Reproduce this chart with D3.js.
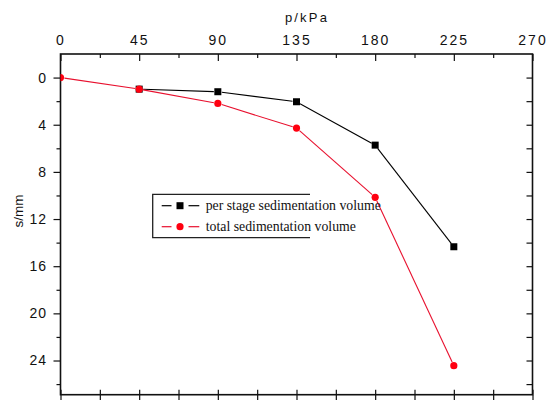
<!DOCTYPE html>
<html>
<head>
<meta charset="utf-8">
<script src="https://cdn.jsdelivr.net/npm/d3@7"></script>
<style>
  html, body { margin: 0; padding: 0; background: #fff; }
  svg { display: block; }
  .tick text { font-family: "Liberation Sans", Arial, sans-serif; fill: #111; }
</style>
</head>
<body>
<svg id="chart" width="553" height="400"></svg>
<script>
// Load p (kPa) and settlement s (mm)
const pressureTotal = [0, 45, 90, 135, 180, 225];
const settleTotal = [0, 0.98, 2.19, 4.28, 10.16, 24.44];
const pressureStage = [45, 90, 135, 180, 225];
const settleStage = [0.98, 1.2, 2.05, 5.73, 14.35];

const xMajorTicks = [0, 45, 90, 135, 180, 225, 270];
const xMinorTicks = [22.5, 67.5, 112.5, 157.5, 202.5, 247.5];
const yMajorTicks = [0, 4, 8, 12, 16, 20, 24];
const yMinorTicks = [2, 6, 10, 14, 18, 22, 26];

const legendLabels = ["per stage sedimentation volume", "total sedimentation volume"];
const xTitle = "p/kPa";
const yTitle = "s/mm";

const svg = d3.select("#chart");
const frame = { left: 60.5, right: 532.5, top: 54, bottom: 394.7 };

const x = d3.scaleLinear().domain([0, 270]).range([frame.left, frame.right]);
const y = d3.scaleLinear().domain([-2, 26.9]).range([frame.top, frame.bottom]);

// clip for data marks
svg.append("defs").append("clipPath").attr("id", "plotclip")
  .append("rect").attr("x", frame.left).attr("y", frame.top)
  .attr("width", frame.right - frame.left).attr("height", frame.bottom - frame.top);

// top axis (labelled), ticks pointing into the frame
const topAxis = svg.append("g").attr("transform", `translate(0,${frame.top})`)
  .call(d3.axisTop(x).tickValues(xMajorTicks).tickSize(-7).tickPadding(9.5)
    .tickFormat(d3.format("d")));
topAxis.selectAll("text").attr("font-size", 14).attr("letter-spacing", 2);
svg.append("g").attr("transform", `translate(0,${frame.top})`)
  .call(d3.axisTop(x).tickValues(xMinorTicks).tickSize(-4).tickFormat(""));

// left axis (labelled), ticks pointing outward
const leftAxis = svg.append("g").attr("transform", `translate(${frame.left},0)`)
  .call(d3.axisLeft(y).tickValues(yMajorTicks).tickSize(7).tickPadding(6.5)
    .tickFormat(d3.format("d")));
leftAxis.selectAll("text").attr("font-size", 14).attr("letter-spacing", 1);
svg.append("g").attr("transform", `translate(${frame.left},0)`)
  .call(d3.axisLeft(y).tickValues(yMinorTicks).tickSize(4).tickFormat(""));

// right axis, inward ticks, no labels
svg.append("g").attr("transform", `translate(${frame.right},0)`)
  .call(d3.axisRight(y).tickValues(yMajorTicks.concat(yMinorTicks)).tickSize(-6).tickFormat(""));

// bottom axis, ticks crossing the frame line
svg.append("g").attr("transform", `translate(0,${frame.bottom})`)
  .call(d3.axisBottom(x).tickValues(xMajorTicks.concat(xMinorTicks)).tickSize(6).tickFormat(""));
svg.append("g").attr("transform", `translate(0,${frame.bottom})`)
  .call(d3.axisBottom(x).tickValues(xMajorTicks.concat(xMinorTicks)).tickSize(-5).tickFormat(""));

svg.selectAll(".domain").remove();
svg.selectAll(".tick line").attr("stroke", "#111").attr("stroke-width", 1.2);

// frame
svg.append("rect").attr("x", frame.left).attr("y", frame.top)
  .attr("width", frame.right - frame.left).attr("height", frame.bottom - frame.top)
  .attr("fill", "none").attr("stroke", "#111").attr("stroke-width", 1.6);

// axis titles
svg.append("text").attr("x", 307).attr("y", 22).attr("text-anchor", "middle")
  .attr("font-family", "'Liberation Sans', Arial, sans-serif").attr("font-size", 13)
  .attr("letter-spacing", 2.2).attr("fill", "#111").text(xTitle);
svg.append("text").attr("transform", "translate(22.5,211) rotate(-90)")
  .attr("text-anchor", "middle")
  .attr("font-family", "'Liberation Sans', Arial, sans-serif").attr("font-size", 13.5)
  .attr("fill", "#111").text(yTitle);

// polyline with small gaps at each symbol
function gappedSegments(g, xs, ys, color, gap) {
  const pts = xs.map((v, i) => [x(v), y(ys[i])]);
  for (let i = 0; i < pts.length - 1; i++) {
    const [x1, y1] = pts[i], [x2, y2] = pts[i + 1];
    const len = Math.hypot(x2 - x1, y2 - y1);
    const ux = (x2 - x1) / len, uy = (y2 - y1) / len;
    g.append("line")
      .attr("x1", x1 + ux * gap).attr("y1", y1 + uy * gap)
      .attr("x2", x2 - ux * gap).attr("y2", y2 - uy * gap)
      .attr("stroke", color).attr("stroke-width", 1.1);
  }
}

const plot = svg.append("g").attr("clip-path", "url(#plotclip)");
const black = "#000", red = "#ff0010", redLine = "#e8102e";

gappedSegments(plot, pressureStage, settleStage, black, 4);
plot.selectAll("rect.stage").data(pressureStage).join("rect")
  .attr("class", "stage")
  .attr("x", (d) => x(d) - 3.5).attr("y", (d, i) => y(settleStage[i]) - 3.5)
  .attr("width", 7).attr("height", 7).attr("fill", black);

gappedSegments(plot, pressureTotal, settleTotal, redLine, 4);
plot.selectAll("circle.total").data(pressureTotal).join("circle")
  .attr("class", "total")
  .attr("cx", (d) => x(d)).attr("cy", (d, i) => y(settleTotal[i]))
  .attr("r", 3.6).attr("fill", red);

// legend
const lg = svg.append("g");
const lx0 = 152.7, ly0 = 194.3, lx1 = 310, ly1 = 237.7;
lg.append("path")
  .attr("d", `M${lx1},${ly0} H${lx0} V${ly1} H${lx1}`)
  .attr("fill", "none").attr("stroke", "#222").attr("stroke-width", 1.3);
const rows = [
  { label: legendLabels[0], color: black, lineColor: black, y: 205.7, sym: "square" },
  { label: legendLabels[1], color: red, lineColor: redLine, y: 226.7, sym: "circle" }
];
rows.forEach((r) => {
  lg.append("line").attr("x1", 161.7).attr("x2", 171.5).attr("y1", r.y).attr("y2", r.y)
    .attr("stroke", r.lineColor).attr("stroke-width", 1.2);
  lg.append("line").attr("x1", 188.5).attr("x2", 199.3).attr("y1", r.y).attr("y2", r.y)
    .attr("stroke", r.lineColor).attr("stroke-width", 1.2);
  if (r.sym === "square") {
    lg.append("rect").attr("x", 180 - 3.5).attr("y", r.y - 3.5).attr("width", 7).attr("height", 7)
      .attr("fill", r.color);
  } else {
    lg.append("circle").attr("cx", 180).attr("cy", r.y).attr("r", 3.6).attr("fill", r.color);
  }
  lg.append("text").attr("x", 205.7).attr("y", r.y + 4.5)
    .attr("font-family", "'Liberation Serif', 'Times New Roman', serif").attr("font-size", 13.8)
    .attr("fill", "#111").text(r.label);
});
</script>
</body>
</html>
